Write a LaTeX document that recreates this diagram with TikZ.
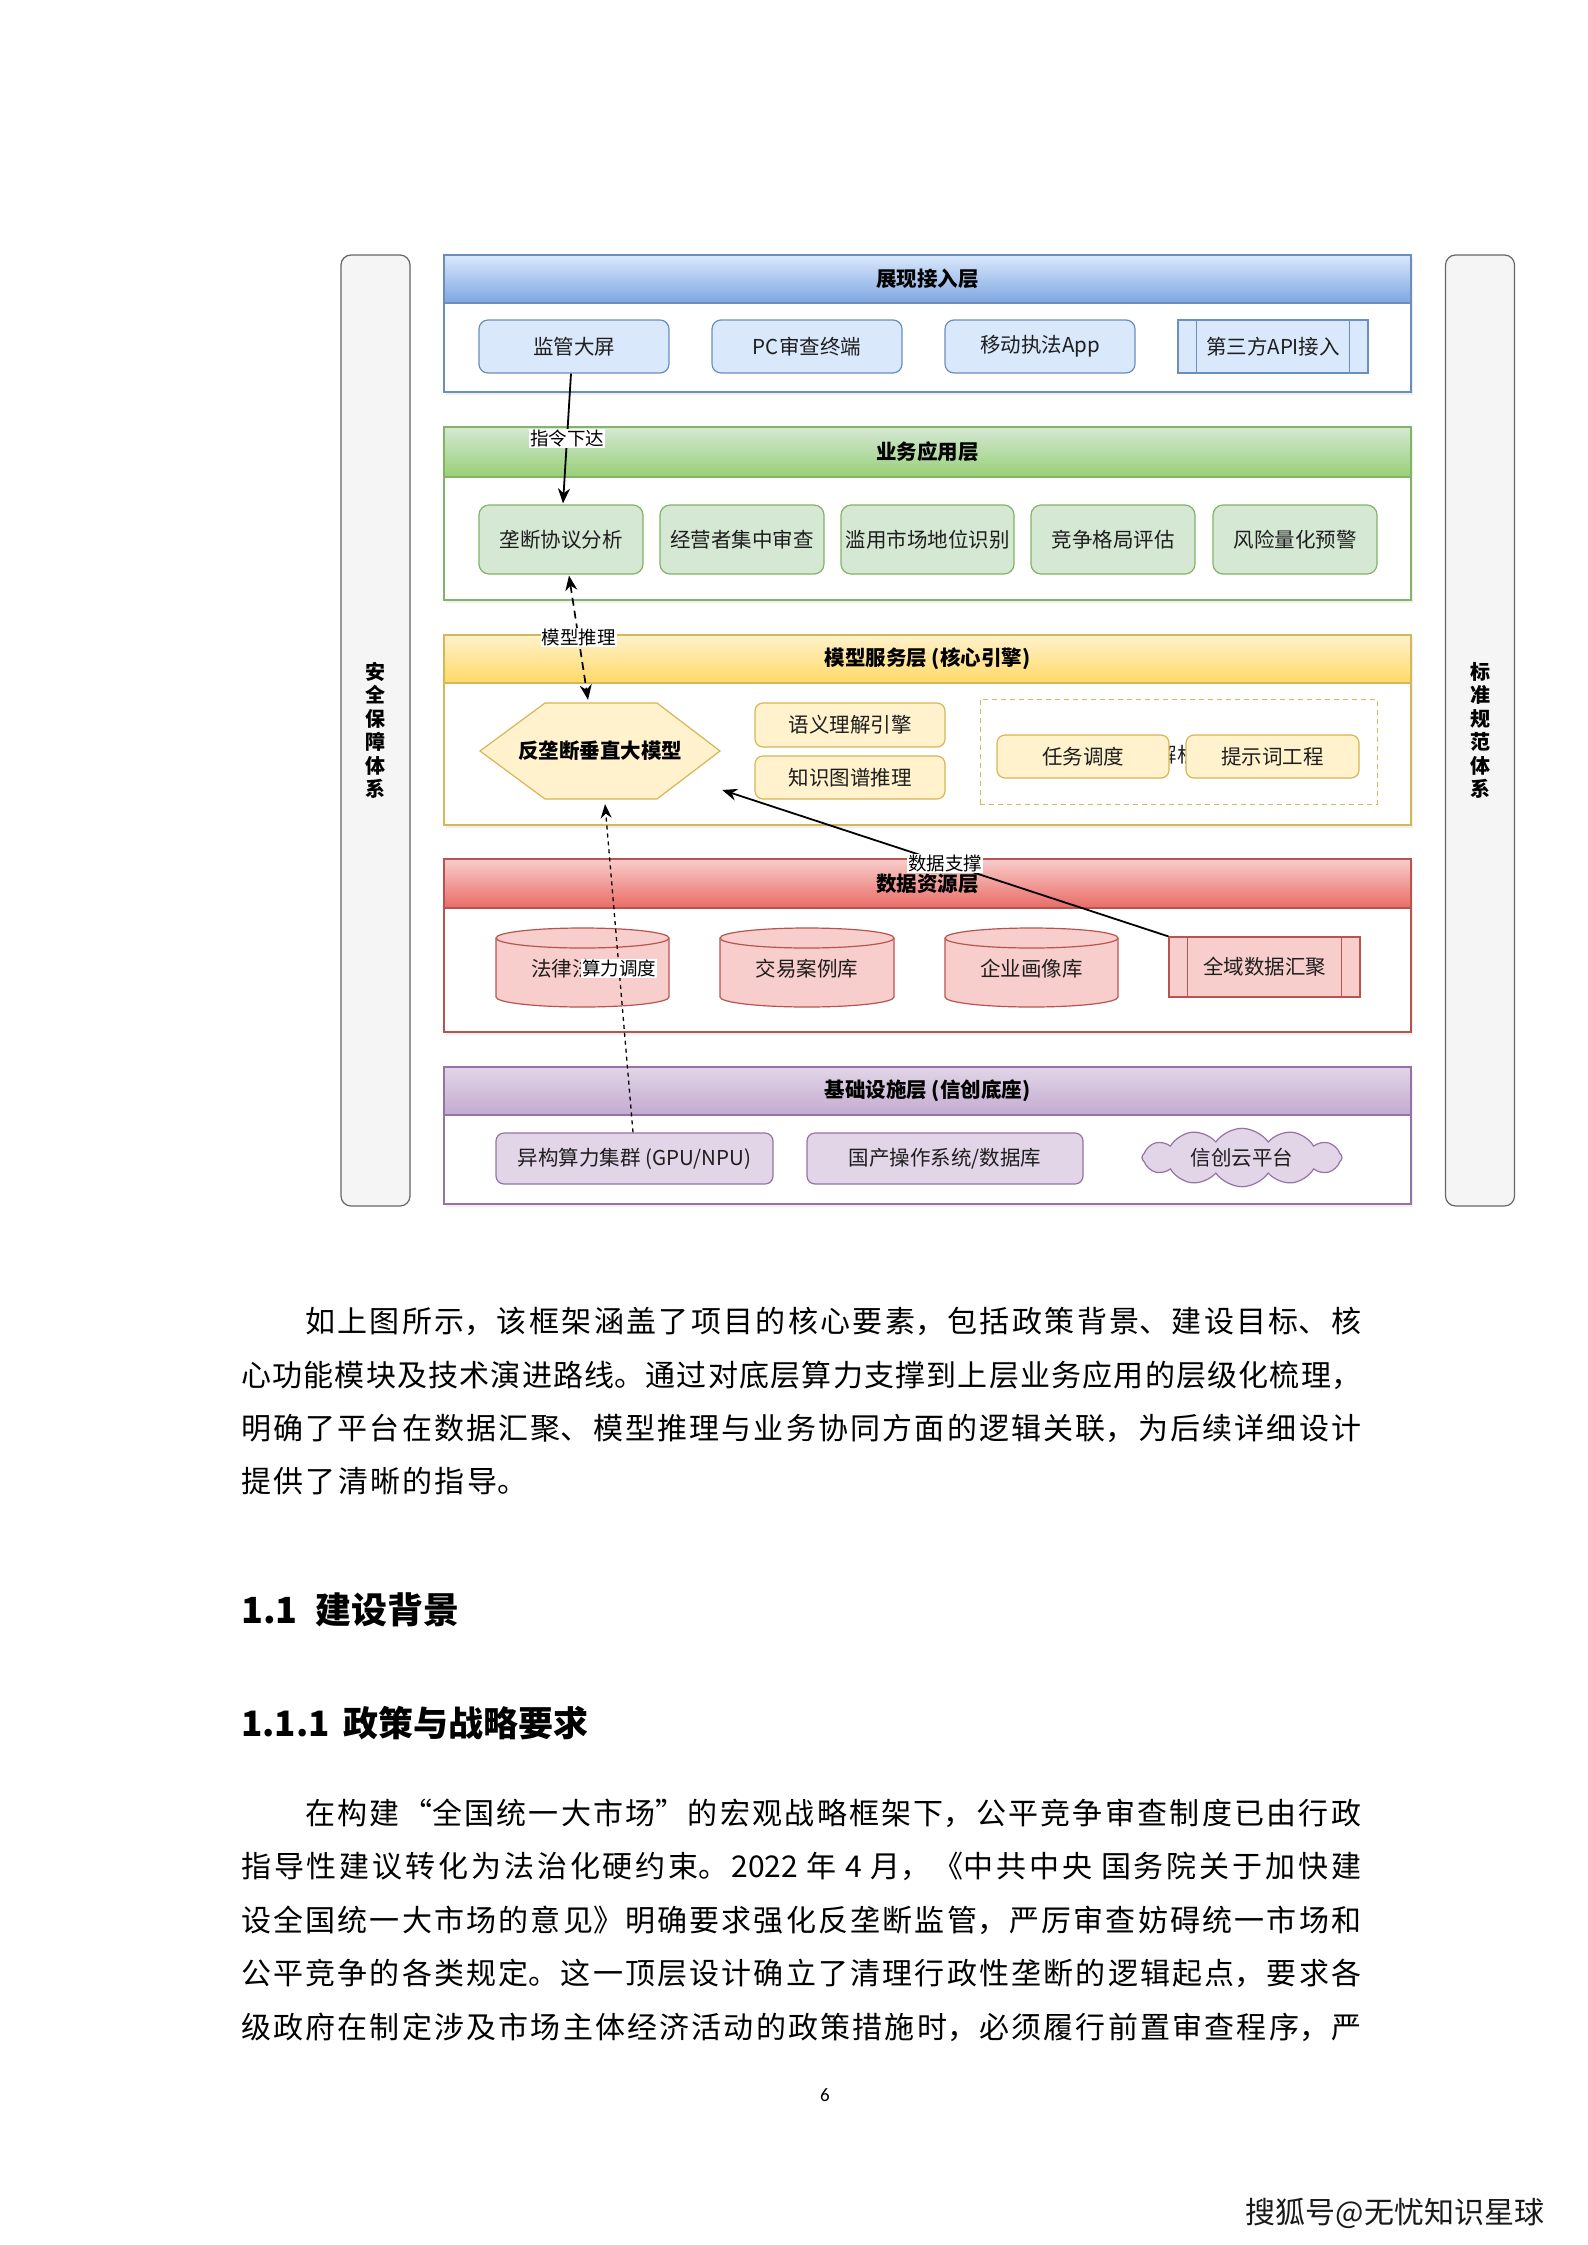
\documentclass[tikz,border=0pt]{standalone}
\usepackage{fontspec}
\setmainfont{Noto Sans CJK SC}
\newfontfamily\numfont{Carlito}
\usetikzlibrary{shapes.symbols,shadows,calc,arrows.meta}
\XeTeXlinebreaklocale "zh"
\XeTeXlinebreakskip=0pt plus 5pt minus 1pt
\definecolor{bluefill}{HTML}{DAE8FC}
\definecolor{bluebot}{HTML}{7EA6E0}
\definecolor{bluestroke}{HTML}{6C8EBF}
\definecolor{greenfill}{HTML}{D5E8D4}
\definecolor{greenbot}{HTML}{97D077}
\definecolor{greenstroke}{HTML}{82B366}
\definecolor{yellowfill}{HTML}{FFF2CC}
\definecolor{yellowbot}{HTML}{FFD966}
\definecolor{yellowstroke}{HTML}{D6B656}
\definecolor{redfill}{HTML}{F8CECC}
\definecolor{redbot}{HTML}{EA6B66}
\definecolor{redstroke}{HTML}{B85450}
\definecolor{purplefill}{HTML}{E1D5E7}
\definecolor{purplebot}{HTML}{C3ABD0}
\definecolor{purplestroke}{HTML}{9673A6}
\definecolor{sidefill}{HTML}{F5F5F5}
\definecolor{sidestroke}{HTML}{666666}
\definecolor{txt}{HTML}{1E1E1E}
\newcommand{\drawcyl}[4]{% x1, top, width, x-radius
  \filldraw[cylsty] (#1,#2+10) -- (#1,#2+69) arc[start angle=180,end angle=360,x radius=#4pt,y radius=10pt]
     -- (#1+#3,#2+10) arc[start angle=0,end angle=180,x radius=#4pt,y radius=10pt] -- cycle;
  \draw[cylsty] (#1,#2+10) arc[start angle=180,end angle=360,x radius=#4pt,y radius=10pt];}
\newcommand{\jline}[1]{\noindent\parfillskip=0pt\relax #1\par}
\begin{document}
\begin{tikzpicture}[x=1pt,y=-1pt,
  every node/.style={text=txt},
  dfont/.style={font=\fontsize{20.5}{24}\selectfont},
  layerbox/.style={draw, fill=white, line width=1.2pt, minimum width=967, inner sep=0,
     drop shadow={opacity=0.12, shadow xshift=2pt, shadow yshift=-3pt}},
  hdr/.style={draw, line width=1.2pt, minimum width=967, inner sep=0, text=black,
     font=\bfseries\fontsize{20.5}{24}\selectfont},
  rbox/.style={draw, line width=1.2pt, inner sep=0, dfont},
  bluebox/.style={rbox, rounded corners=9pt, draw=bluestroke, fill=bluefill, minimum width=190, minimum height=53},
  greenbox/.style={rbox, rounded corners=10pt, draw=greenstroke, fill=greenfill, minimum width=164, minimum height=69},
  yelbox/.style={rbox, rounded corners=8pt, draw=yellowstroke, fill=yellowfill, minimum height=43},
  purbox/.style={rbox, rounded corners=8pt, draw=purplestroke, fill=purplefill, minimum width=277, minimum height=51},
  cylsty/.style={draw=redstroke, fill=redfill, line width=1.2pt},
  sidebar/.style={draw=sidestroke, fill=sidefill, line width=1.2pt, rounded corners=10pt,
     minimum width=69, minimum height=951, inner sep=0, align=center, text=black,
     font=\bfseries\fontsize{20}{23.5}\selectfont},
  conn/.style={draw=black, line width=1.8pt, -{Stealth[length=15pt,width=12pt]}},
  dconn/.style={draw=black, line width=1.7pt, dash pattern=on 8pt off 5pt,
     {Stealth[length=15pt,width=12pt]}-{Stealth[length=15pt,width=12pt]}},
  sconn/.style={draw=black, line width=1.3pt, dash pattern=on 4pt off 4pt, -{Stealth[length=14pt,width=11pt]}},
  lbl/.style={fill=white, inner sep=1pt, text=black, font=\fontsize{18.5}{21}\selectfont},
  body/.style={anchor=west, inner sep=0, text=black, align=justify, font=\fontsize{30}{36}\selectfont},
  headA/.style={anchor=west, inner sep=0, text=black, font=\bfseries\fontsize{36}{42}\selectfont}
]
\useasboundingbox (0,0) rectangle (1587,2245);
\fill[white] (0,0) rectangle (1587,2245);

% side bars
\node[sidebar] (sec) at (375.5,730.5) {安\\全\\保\\障\\体\\系};
\node[sidebar] (std) at (1480,730.5) {标\\准\\规\\范\\体\\系};

% ===== 展现接入层 =====
\node[layerbox, draw=bluestroke, minimum height=137] (L1) at (927.5,323.5) {};
\node[hdr, draw=bluestroke, top color=bluefill, bottom color=bluebot, minimum height=48] (H1) at (927.5,279) {展现接入层};
\node[bluebox] (jg) at (574,346.5) {监管大屏};
\node[bluebox] (pc) at (807,346.5) {PC审查终端};
\node[bluebox] (app) at (1040,346.5) {移动执法App};
\node[rbox, draw=bluestroke, fill=bluefill, minimum width=190, minimum height=53] (api) at (1273,346.5) {第三方API接入};
\draw[bluestroke, line width=1.2pt] ([xshift=19]api.north west) -- ([xshift=19]api.south west)
  ([xshift=-19]api.north east) -- ([xshift=-19]api.south east);

% ===== 业务应用层 =====
\node[layerbox, draw=greenstroke, minimum height=173] (L2) at (927.5,513.5) {};
\node[hdr, draw=greenstroke, top color=greenfill, bottom color=greenbot, minimum height=50] (H2) at (927.5,452) {业务应用层};
\node[greenbox] (ld) at (561,539.5) {垄断协议分析};
\node[greenbox] (jy) at (742,539.5) {经营者集中审查};
\node[greenbox, minimum width=173] (lm) at (927.5,539.5) {滥用市场地位识别};
\node[greenbox] (jz) at (1113,539.5) {竞争格局评估};
\node[greenbox] (fx) at (1295,539.5) {风险量化预警};

% ===== 模型服务层 =====
\node[layerbox, draw=yellowstroke, minimum height=190] (L3) at (927.5,730) {};
\node[hdr, draw=yellowstroke, top color=yellowfill, bottom color=yellowbot, minimum height=48] (H3) at (927.5,659) {模型服务层 (核心引擎)};
\filldraw[draw=yellowstroke, fill=yellowfill, line width=1.2pt]
  (480,751) -- (545,703) -- (657,703) -- (720,751) -- (657,799) -- (545,799) -- cycle;
\node[minimum width=240, minimum height=96, inner sep=0, text=black, font=\bfseries\fontsize{20.5}{24}\selectfont] (hex) at (600,751) {反垄断垂直大模型};
\node[yelbox, minimum width=190, minimum height=44] (yy) at (850,725) {语义理解引擎};
\node[yelbox, minimum width=190] (zs) at (850,777.5) {知识图谱推理};
\node[draw=yellowstroke, line width=1pt, dash pattern=on 5pt off 4pt, minimum width=397, minimum height=105, inner sep=0] (grp) at (1178.5,751.5) {};
\node[dfont, inner sep=0] (hid) at (1177,755) {解析};
\node[yelbox, minimum width=172] (rw) at (1083,756.5) {任务调度};
\node[yelbox, minimum width=173] (ts) at (1272.5,756.5) {提示词工程};

% ===== 数据资源层 =====
\node[layerbox, draw=redstroke, minimum height=173] (L4) at (927.5,945.5) {};
\node[hdr, draw=redstroke, top color=redfill, bottom color=redbot, minimum height=49] (H4) at (927.5,883.5) {数据资源层};
\drawcyl{496}{928}{173}{86.5}
\drawcyl{720}{928}{174}{87}
\drawcyl{945}{928}{173}{86.5}
\node[dfont, inner sep=0] (fl) at (582.5,969) {法律法规库};
\node[dfont, inner sep=0] (jyal) at (807,969) {交易案例库};
\node[dfont, inner sep=0] (qyhx) at (1031.5,969) {企业画像库};
\node[rbox, draw=redstroke, fill=redfill, minimum width=191, minimum height=60] (qy) at (1264.5,967) {全域数据汇聚};
\draw[redstroke, line width=1.2pt] ([xshift=19]qy.north west) -- ([xshift=19]qy.south west)
  ([xshift=-19]qy.north east) -- ([xshift=-19]qy.south east);

% ===== 基础设施层 =====
\node[layerbox, draw=purplestroke, minimum height=137] (L5) at (927.5,1135.5) {};
\node[hdr, draw=purplestroke, top color=purplefill, bottom color=purplebot, minimum height=48] (H5) at (927.5,1091) {基础设施层 (信创底座)};
\node[purbox] (gpu) at (634.5,1158.5) {异构算力集群 (GPU/NPU)};
\node[purbox, minimum width=276] (os) at (945,1158.5) {国产操作系统/数据库};
\node[cloud, cloud puffs=12, cloud puff arc=110, aspect=3.6, draw=purplestroke, fill=purplefill,
  line width=1.2pt, minimum width=200, minimum height=50, inner sep=0, dfont] (cloud) at (1242,1157.5) {信创云平台};

% ===== connectors =====
\draw[conn] ($(jg.south)+(-3,0)$) -- node[lbl] {指令下达} ($(ld.north)+(2,-1)$);
\draw[dconn] ($(ld.south)+(8,1)$) -- node[lbl] {模型推理} ($(hex.north)+(-12,-3)$);
\draw[conn] (qy.north west) -- node[lbl] {数据支撑} ($(hex.east)+(2,39)$);
\draw[sconn] ($(gpu.north)+(-1.5,0)$) -- node[lbl] {算力调度} ($(hex.south)+(5,5)$);

% ===== body text =====
\node[body, text width=1056pt] (p1a) at (305,1321) {\jline{如上图所示，该框架涵盖了项目的核心要素，包括政策背景、建设目标、核}};
\node[body, text width=1120pt] (p1b) at (241,1375) {\jline{心功能模块及技术演进路线。通过对底层算力支撑到上层业务应用的层级化梳理，}};
\node[body, text width=1120pt] (p1c) at (241,1428) {\jline{明确了平台在数据汇聚、模型推理与业务协同方面的逻辑关联，为后续详细设计}};
\node[body, text width=286pt] (p1d) at (241,1481) {\jline{提供了清晰的指导。}};

\node[headA] (h11) at (241,1610) {1.1\hspace{18pt}建设背景};
\node[headA, font=\bfseries\fontsize{35}{42}\selectfont] (h111) at (241,1723) {1.1.1\hspace{14pt}政策与战略要求};

\node[body, text width=1056pt] (p2a) at (305,1813) {\jline{在构建“全国统一大市场”的宏观战略框架下，公平竞争审查制度已由行政}};
\node[body, text width=1120pt] (p2b) at (241,1866.5) {\jline{指导性建议转化为法治化硬约束。2022 年 4 月，《中共中央 国务院关于加快建}};
\node[body, text width=1120pt] (p2c) at (241,1920) {\jline{设全国统一大市场的意见》明确要求强化反垄断监管，严厉审查妨碍统一市场和}};
\node[body, text width=1120pt] (p2d) at (241,1973.5) {\jline{公平竞争的各类规定。这一顶层设计确立了清理行政性垄断的逻辑起点，要求各}};
\node[body, text width=1120pt] (p2e) at (241,2027) {\jline{级政府在制定涉及市场主体经济活动的政策措施时，必须履行前置审查程序，严}};

\node[inner sep=0, text=black, font=\numfont\fontsize{19}{22}\selectfont] (pg) at (825,2095) {6};
\node[inner sep=0, text=black!90, font=\fontsize{30}{34}\selectfont] (wm) at (1395,2213) {搜狐号@无忧知识星球};
\end{tikzpicture}
\end{document}
